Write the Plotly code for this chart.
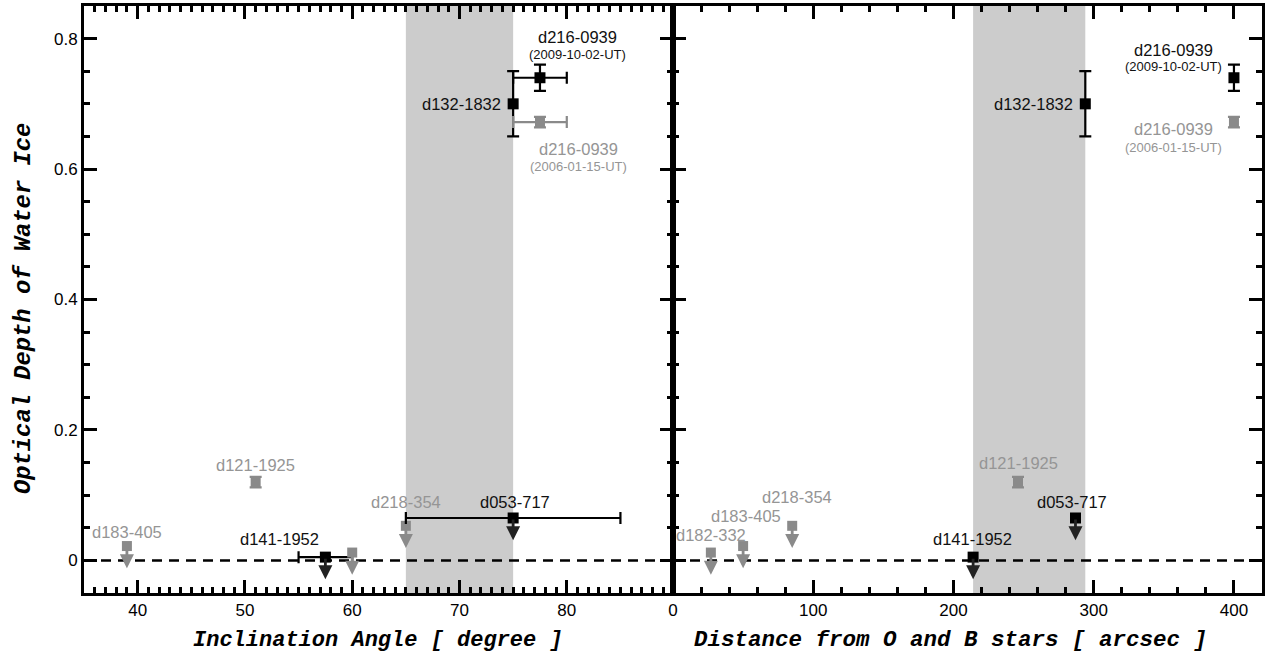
import plotly.graph_objects as go

# ---------------- data ----------------
names = ["d216-0939", "d132-1832", "d216-0939", "d121-1925", "d183-405",
         "d141-1952", "d182-332", "d218-354", "d053-717"]
dates = ["(2009-10-02-UT)", "", "(2006-01-15-UT)", "", "", "", "", "", ""]
group = ["black", "black", "gray", "gray", "gray", "black", "gray", "gray", "black"]
tau = [0.740, 0.700, 0.672, 0.120, 0.022, 0.005, 0.012, 0.053, 0.065]
tau_err = [0.020, 0.050, 0.008, 0.008, 0, 0, 0, 0, 0]
upper_limit = [False, False, False, False, True, True, True, True, True]
incl = [77.5, 75.0, 77.5, 51.0, 39.0, 57.5, 60.0, 65.0, 75.0]
incl_err = [2.5, 0, 2.5, 0, 0, 2.5, 0, 0, 10.0]
dist = [400, 294, 400, 246, 50, 214, 27, 85, 287]
show_label_left = [True, True, True, True, True, True, False, True, True]

shade_incl = [65, 75]
shade_dist = [214, 294]

x1_range = [35, 89.9]
x2_range = [0, 420]
y_range = [-0.05, 0.85]

x1_title = "Inclination Angle [ degree ]"
x2_title = "Distance from O and B stars [ arcsec ]"
y_title = "Optical Depth of Water Ice"

# label offsets in px (x shift, name y shift, date y shift), per panel
lab_left = [(38, 41, 23), (-10, 0, 0), (39, -27, -44), (0, 17, 0), (0, 14, 0),
            (-46, 18, 0), (0, 0, 0), (0, 24, 0), (2, 16, 0)]
lab_right = [(-60, 28, 11), (-10, 0, 0), (-60, -7, -25), (1, 19, 0), (3, 30, 0),
             (-1, 18, 0), (0, 18, 0), (5, 29, 0), (-3, 16, 0)]

COL = {"black": "#000000", "gray": "#8a8a8a"}
TXT = {"black": "#111111", "gray": "#959595"}
ARR = {"black": "#222222", "gray": "#8a8a8a"}

W, H = 1271, 667

fig = go.Figure()

for i in range(len(names)):
    c = COL[group[i]]
    for xv, xe, xa, ya in [(incl[i], incl_err[i], "x", "y"), (dist[i], 0, "x2", "y2")]:
        fig.add_trace(go.Scatter(
            x=[xv], y=[tau[i]], mode="markers", xaxis=xa, yaxis=ya,
            marker=dict(symbol="square", size=11 if group[i] == "black" else 10, color=c),
            error_y=dict(type="data", array=[tau_err[i]], visible=tau_err[i] > 0,
                         color=c, thickness=2.2, width=6),
            error_x=dict(type="data", array=[xe], visible=xe > 0,
                         color=c, thickness=2.2, width=6),
            showlegend=False, hoverinfo="skip"))

# dashed zero line & shaded regions
for xa, ya, sh in [("x", "y", shade_incl), ("x2", "y2", shade_dist)]:
    fig.add_shape(type="rect", xref=xa, yref=ya + " domain", x0=sh[0], x1=sh[1], y0=0, y1=1,
                  fillcolor="#cccccc", line_width=0, layer="below")
    fig.add_shape(type="line", xref=xa + " domain", yref=ya, x0=0, x1=1, y0=0, y1=0,
                  line=dict(color="black", width=2.5, dash="10px,7px"), layer="below")

annos = []
ARROW_LEN = 0.034
for i in range(len(names)):
    for xv, xa, ya, off, show in [(incl[i], "x", "y", lab_left[i], show_label_left[i]),
                                  (dist[i], "x2", "y2", lab_right[i], True)]:
        if upper_limit[i]:
            annos.append(dict(x=xv, y=tau[i] - ARROW_LEN, ax=xv, ay=tau[i], xref=xa, yref=ya,
                              axref=xa, ayref=ya, showarrow=True, text="", arrowhead=2,
                              arrowsize=1.0, arrowwidth=2.8, arrowcolor=ARR[group[i]]))
        if not show:
            continue
        dx, dy, dy2 = off
        anchor = "right" if names[i] == "d132-1832" else "center"
        annos.append(dict(x=xv, y=tau[i], xref=xa, yref=ya, text=names[i], showarrow=False,
                          xanchor=anchor, yanchor="middle", xshift=dx, yshift=dy,
                          font=dict(family="Liberation Sans, Arial", size=16.5, color=TXT[group[i]])))
        if dates[i]:
            annos.append(dict(x=xv, y=tau[i], xref=xa, yref=ya, text=dates[i], showarrow=False,
                              xanchor="center", yanchor="middle", xshift=dx, yshift=dy2,
                              font=dict(family="Liberation Sans, Arial", size=13, color=TXT[group[i]])))


def tfont(sz):
    return dict(family="Liberation Mono, Courier New", size=sz, color="black")


# axis titles
annos.append(dict(x=378 / W, y=1 - 640 / H, xref="paper", yref="paper", showarrow=False,
                  text="<b><i>%s</i></b>" % x1_title, font=tfont(22), xanchor="center", yanchor="middle"))
annos.append(dict(x=951 / W, y=1 - 640 / H, xref="paper", yref="paper", showarrow=False,
                  text="<b><i>%s</i></b>" % x2_title, font=tfont(22.5), xanchor="center", yanchor="middle"))
annos.append(dict(x=23 / W, y=1 - 309 / H, xref="paper", yref="paper", showarrow=False, textangle=-90,
                  text="<b><i>%s</i></b>" % y_title, font=tfont(23.8), xanchor="center", yanchor="middle"))

fig.update_layout(annotations=annos)

axis_common = dict(showline=True, linewidth=3, linecolor="black", mirror="allticks",
                   ticks="inside", ticklen=13, tickwidth=2.5, tickcolor="black",
                   showgrid=False, zeroline=False, automargin=False, tickmode="linear",
                   tickfont=dict(family="Liberation Sans, Arial", size=17, color="black"))


def minor(d):
    return dict(dtick=d, ticklen=6, tickwidth=2.5, ticks="inside", tickcolor="black", showgrid=False)


fig.update_layout(
    width=W, height=H, margin=dict(l=0, r=0, t=0, b=0),
    paper_bgcolor="white", plot_bgcolor="white",
    xaxis=dict(domain=[84 / W, 673 / W], range=x1_range, tick0=0, dtick=10,
               minor=minor(1), anchor="y", **axis_common),
    xaxis2=dict(domain=[673 / W, 1262 / W], range=x2_range, tick0=0, dtick=100,
                minor=minor(20), anchor="y2", **axis_common),
    yaxis=dict(domain=[1 - 593 / H, 1 - 6 / H], range=y_range, tick0=0, dtick=0.2,
               minor=minor(0.05), anchor="x", **axis_common),
    yaxis2=dict(domain=[1 - 593 / H, 1 - 6 / H], range=y_range, tick0=0, dtick=0.2,
                showticklabels=False, minor=minor(0.05), anchor="x2", **axis_common),
)

fig.write_html("out.html")
